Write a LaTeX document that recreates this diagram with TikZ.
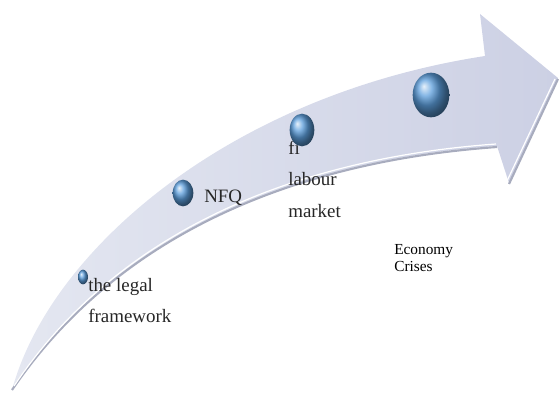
\documentclass[tikz,border=0pt]{standalone}
\usepackage{fontspec}
\setmainfont{Liberation Serif}
\usetikzlibrary{shapes.geometric}
\definecolor{arrowbody}{RGB}{204,208,228}
\definecolor{arrowtail}{RGB}{228,231,241}
\definecolor{arrowrim}{RGB}{168,172,190}
\definecolor{beadblue}{RGB}{92,158,220}
\tikzset{
  bead/.style={ellipse, inner sep=0pt, shade, ball color=beadblue},
  tagtext/.style={anchor=north west, inner sep=0.75pt, align=left, text=black!85, font=\fontsize{14.2}{23.5}\selectfont},
}
\begin{document}
\begin{tikzpicture}[x=0.75pt,y=0.75pt,yscale=-1,xscale=1]
\useasboundingbox (0,0) rectangle (559,392);
% arrow body
\shade [left color=arrowtail, right color=arrowbody] (12,390) .. controls (50,250) and (230,95) .. (485,56) -- (480,14) -- (558,78) -- (509,183) -- (497,146) .. controls (300,160) and (120,230) .. (12,390) -- cycle ;
% rim under the arrow
\draw [color=arrowrim, line width=1.6pt] (497,147) .. controls (300,161) and (120,231) .. (12,390) ;
\draw [color=white, line width=0.9pt] (496,144) .. controls (300,158) and (120,228) .. (14,386) ;
\draw [color=arrowrim, line width=1.6pt] (558,79) -- (509,184) ;
\draw [color=white, line width=0.9pt] (555,79) -- (507,181) ;
% texts
\node [tagtext] (legal) at (87,277) {the legal\\framework};
\node [tagtext] (nfq) at (203,189) {NFQ};
\node [tagtext] (labour) at (287,140) {fi\\labour\\market};
\node [tagtext, text=black, font=\fontsize{11.5}{12.8}\selectfont] (crises) at (393,243) {Economy\\Crises};
% beads on the arrow
\node [bead, minimum width=7.5pt, minimum height=11pt] (bead1) at (83,277) {};
\node [bead, minimum width=15.5pt, minimum height=20pt] (bead2) at (183,193) {};
\node [bead, minimum width=18.5pt, minimum height=24.5pt] (bead3) at (302,130) {};
\node [bead, minimum width=27.5pt, minimum height=33.5pt] (bead4) at (431,95) {};
\end{tikzpicture}
\end{document}
